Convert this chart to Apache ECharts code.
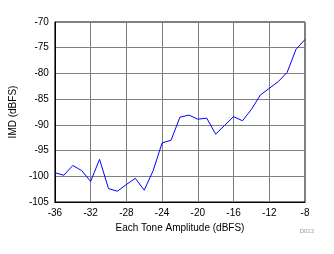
<!DOCTYPE html>
<html><head><meta charset="utf-8">
<script src="https://cdn.jsdelivr.net/npm/echarts@6/dist/echarts.min.js"></script>
<style>html,body{margin:0;padding:0;background:#fff}#c{width:334px;height:254px}</style>
</head><body><div id="c"></div>
<script>
const amplitude = [-36,-35,-34,-33,-32,-31,-30,-29,-28,-27,-26,-25,-24,-23,-22,-21,-20,-19,-18,-17,-16,-15,-14,-13,-12,-11,-10,-9,-8];
const imd = [-99.3,-99.8,-97.9,-98.9,-101.0,-96.7,-102.4,-102.9,-101.6,-100.4,-102.7,-98.9,-93.5,-93.0,-88.5,-88.1,-88.9,-88.7,-91.8,-90.1,-88.4,-89.2,-87.0,-84.2,-82.9,-81.6,-79.8,-75.3,-73.4];
const xTitle = 'Each Tone Amplitude (dBFS)';
const yTitle = 'IMD (dBFS)';
const note = 'D013';

const chart = echarts.init(document.getElementById('c'), null, {renderer:'canvas'});
const font = 'Liberation Sans, Arial, sans-serif';
chart.setOption({
  animation:false,
  grid:{left:50,right:29,top:22,bottom:52,show:true,borderColor:'#000',borderWidth:1,containLabel:false},
  xAxis:{type:'value',min:-36,max:-8,interval:4,
    name:xTitle,nameLocation:'middle',nameGap:19,
    nameTextStyle:{color:'#000',fontFamily:font,fontSize:10},
    axisLine:{show:true,lineStyle:{color:'#000',width:1}},
    axisTick:{show:false},
    axisLabel:{color:'#000',fontFamily:font,fontSize:10,margin:6},
    splitLine:{show:true,lineStyle:{color:'#808080',width:1}}},
  yAxis:{type:'value',min:-105,max:-70,interval:5,
    name:yTitle,nameLocation:'middle',nameGap:25,
    nameTextStyle:{color:'#000',fontFamily:font,fontSize:10},
    axisLine:{show:true,lineStyle:{color:'#000',width:1}},
    axisTick:{show:false},
    axisLabel:{color:'#000',fontFamily:font,fontSize:10,margin:6},
    splitLine:{show:true,lineStyle:{color:'#808080',width:1}}},
  graphic:[{type:'text',right:20,top:228,style:{text:note,fill:'#999',font:'6px '+font}}],
  series:[{type:'line',data:amplitude.map((a,i)=>[a,imd[i]]),showSymbol:false,
    lineStyle:{color:'#0000ff',width:1}}]
});
</script></body></html>
